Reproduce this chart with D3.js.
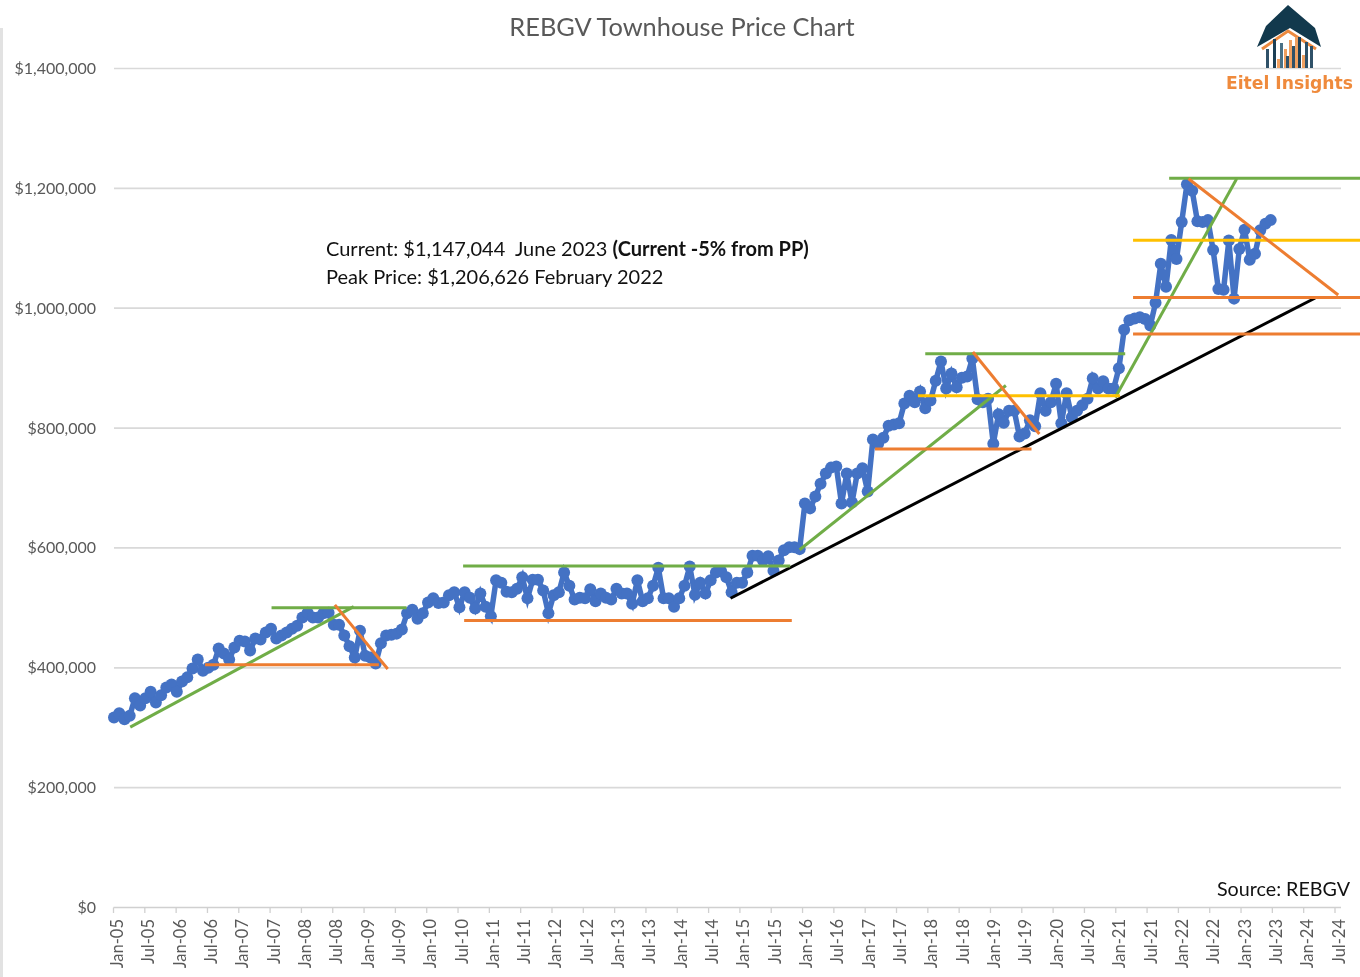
<!DOCTYPE html>
<html><head><meta charset="utf-8">
<script src="https://cdn.jsdelivr.net/npm/d3@7"></script>
<style>
html,body{margin:0;padding:0;background:#fff;overflow:hidden}
svg{display:block;filter:blur(0.7px)}
text{font-family:Lato,"Noto Sans",sans-serif}
</style></head><body>
<div id="chart"></div>
<script>
// Monthly price in $ thousands, Jan-05 to Jun-23
const priceK = [
317,324,314,320,349,337,349,360,342,354,367,372,
360,377,384,399,414,395,400,405,432,424,414,434,
445,444,429,449,447,459,465,449,454,459,465,470,
484,492,484,484,491,492,472,472,454,436,417,462,
420,417,407,441,454,455,457,464,491,497,482,491,
509,516,508,509,521,526,501,526,517,499,524,502,
486,546,542,527,526,532,551,516,547,547,529,491,
521,526,559,537,514,517,516,531,511,524,517,514,
532,524,524,507,546,511,516,537,567,516,516,502,
516,537,569,522,542,524,546,559,561,551,526,542,
542,559,587,587,579,586,562,579,596,601,601,598,
674,666,686,707,724,734,736,674,724,676,724,733,
694,781,774,784,804,806,808,841,854,843,861,833,
846,879,911,866,891,868,884,886,916,848,843,849,
774,823,809,829,829,786,791,813,803,858,829,843,
874,808,858,818,829,838,849,883,866,878,866,866,
900,964,980,983,985,982,971,1009,1074,1036,1114,1082,
1144,1207,1196,1145,1144,1147,1097,1032,1031,1113,1016,1099,
1131,1081,1091,1130,1141,1147];
const yTicks = [0,200,400,600,800,1000,1200,1400];
const xLabels = ["Jan-05","Jul-05","Jan-06","Jul-06","Jan-07","Jul-07","Jan-08","Jul-08","Jan-09","Jul-09",
"Jan-10","Jul-10","Jan-11","Jul-11","Jan-12","Jul-12","Jan-13","Jul-13","Jan-14","Jul-14",
"Jan-15","Jul-15","Jan-16","Jul-16","Jan-17","Jul-17","Jan-18","Jul-18","Jan-19","Jul-19",
"Jan-20","Jul-20","Jan-21","Jul-21","Jan-22","Jul-22","Jan-23","Jul-23","Jan-24","Jul-24"];
// Trend lines: [month index, $k, month index, $k]
const greenLines = [[3.1,301,45.8,502],[30.1,500,55.9,500],[66.7,570,129.2,570],[131,597,170.4,871],[155,924,193.2,924],[191.3,851,214.5,1216],[201.6,1217,238.1,1217]];
const orangeLines = [[17.4,405,50.6,405],[42.2,505,52.3,398],[66.9,479,129.5,479],[145.4,765,175.3,765],[164.1,927,176.8,790],[194.7,1018,238.1,1018],[194.7,957,238.1,957],[205.3,1216,233.9,1022]];
const yellowLines = [[153.6,854,192.2,854],[194.7,1113.5,238.1,1113.5]];
const blackLines = [[117.8,516,229.5,1017]];

const W=1360,H=977;
const svg=d3.select("#chart").append("svg").attr("width",W).attr("height",H);
const x=d3.scaleLinear().domain([0,221]).range([114,1270.7]);
const xAxisScale=d3.scaleLinear().domain([0,234]).range([113.5,1335]);
const y=d3.scaleLinear().domain([0,1400]).range([907.5,68.5]);
const fmt=d=>"$"+d3.format(",")(d*1000);

svg.append("rect").attr("x",0).attr("y",28).attr("width",3).attr("height",H-28).attr("fill","#e2e2e2");

// Grid
svg.append("g").selectAll("line").data(yTicks.filter(d=>d>0)).join("line")
 .attr("x1",114).attr("x2",1341).attr("y1",d=>y(d)).attr("y2",d=>y(d))
 .attr("stroke","#d9d9d9").attr("stroke-width",1.7);
// Y labels
svg.append("g").selectAll("text").data(yTicks).join("text")
 .attr("x",96).attr("y",d=>y(d)+5.5).attr("text-anchor","end")
 .attr("font-size",16).attr("fill","#595959").text(fmt);
// X axis
svg.append("line").attr("x1",113.5).attr("x2",1341).attr("y1",y(0)).attr("y2",y(0)).attr("stroke","#d0d0d0").attr("stroke-width",1.7);
const xg=svg.append("g").selectAll("g").data(xLabels).join("g")
 .attr("transform",(d,i)=>`translate(${xAxisScale(i*6)},${y(0)})`);
xg.append("line").attr("y2",5.5).attr("stroke","#d0d0d0").attr("stroke-width",1.3);
xg.append("text").attr("transform","translate(9.5,11.5) rotate(-90)").attr("text-anchor","end")
 .attr("font-size",16.5).attr("fill","#595959").text(d=>d);

// Series
const line=d3.line().x((d,i)=>x(i)).y(d=>y(d));
svg.append("path").datum(priceK).attr("d",line).attr("fill","none").attr("stroke","#4472c4").attr("stroke-width",5.5);
svg.append("g").selectAll("circle").data(priceK).join("circle")
 .attr("cx",(d,i)=>x(i)).attr("cy",d=>y(d)).attr("r",6).attr("fill","#4472c4");

// Trend lines
function trend(data,color,sw){
 svg.append("g").selectAll("line").data(data).join("line")
  .attr("x1",d=>x(d[0])).attr("y1",d=>y(d[1])).attr("x2",d=>x(d[2])).attr("y2",d=>y(d[3]))
  .attr("stroke",color).attr("stroke-width",sw);
}
trend(blackLines,"#000",3);
trend(greenLines,"#70ad47",3);
trend(yellowLines,"#ffc000",3);
trend(orangeLines,"#ed7d31",3);

// Title and notes
svg.append("text").attr("x",682).attr("y",35.5).attr("text-anchor","middle").attr("font-size",25.4).attr("fill","#595959").text("REBGV Townhouse Price Chart");
const n1=svg.append("text").attr("x",326).attr("y",255.5).attr("font-size",20).attr("fill","#111");
n1.append("tspan").text("Current: $1,147,044\u00a0\u00a0June 2023 ");
n1.append("tspan").attr("font-weight","700").text("(Current -5% from PP)");
svg.append("text").attr("x",326).attr("y",283.5).attr("font-size",20).attr("fill","#111").text("Peak Price: $1,206,626 February 2022");
svg.append("text").attr("x",1350).attr("y",896).attr("text-anchor","end").attr("font-size",19.7).attr("fill","#111").text("Source: REBGV");

// Logo
const logo=svg.append("g");
logo.append("path").attr("d","M1262,49L1288,31L1316,49").attr("fill","none").attr("stroke","#ed8a3f").attr("stroke-width",3);
const logoBars=[[1266,49,"#2f5168"],[1273,39,"#1c3f55"],[1277,59,"#f0a060"],[1280,43,"#4b7186"],[1284,49,"#f0a060"],[1286,56,"#2f5168"],[1289,40,"#f0a060"],[1292,46,"#2f5168"],[1295,37,"#f0a060"],[1298,37,"#1c3f55"],[1302,55,"#f0a060"],[1305,42,"#2f5168"],[1310,46,"#2f5168"]];
logo.selectAll("rect").data(logoBars).join("rect").attr("x",d=>d[0]).attr("y",d=>d[1]).attr("width",3).attr("height",d=>68-d[1]).attr("fill",d=>d[2]);
logo.append("path").attr("d","M1288,5L1315,28L1321,47L1290,28L1257,47L1266,26Z").attr("fill","#12394d");
svg.append("text").attr("x",1226).attr("y",89).attr("font-size",17).attr("font-weight","700").attr("fill","#ef8a3c")
 .attr("textLength",127).attr("lengthAdjust","spacingAndGlyphs").style("font-family","'DejaVu Sans',sans-serif").text("Eitel Insights");
</script>
</body></html>
